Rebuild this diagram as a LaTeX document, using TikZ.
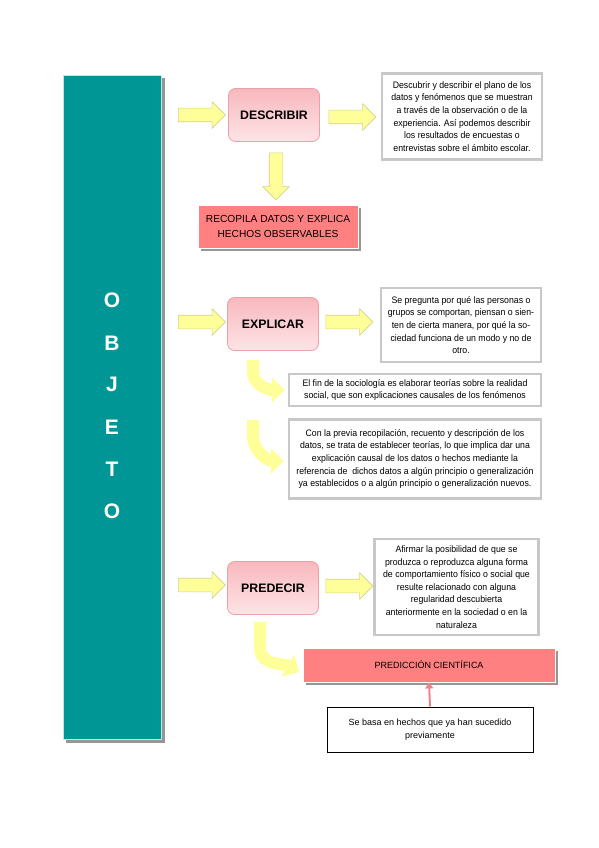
\documentclass[tikz,border=0pt]{standalone}
\usepackage{fontspec}
\setmainfont{Liberation Sans}
\newfontfamily\narrowfont[FakeStretch=0.93]{Liberation Sans}
\usetikzlibrary{shapes.arrows,arrows.meta}
\definecolor{tealc}{RGB}{0,150,150}
\definecolor{tealedge}{RGB}{200,225,225}
\definecolor{shadowc}{RGB}{150,150,150}
\definecolor{boxgray}{RGB}{200,200,200}
\definecolor{salmon}{RGB}{255,128,128}
\definecolor{pinktop}{RGB}{248,184,190}
\definecolor{pinkbot}{RGB}{253,228,230}
\definecolor{pinkedge}{RGB}{235,160,170}
\definecolor{arrowy}{RGB}{255,255,153}
\definecolor{arrowedge}{RGB}{210,210,140}
\definecolor{pinkarrow}{RGB}{240,130,140}
\tikzset{
  desc/.style={draw=boxgray, line width=2.5pt, fill=white, align=center,
    font=\narrowfont\fontsize{9.4}{12.6}\selectfont, inner sep=1pt},
  verb/.style={rounded corners=7pt, draw=pinkedge, line width=0.8pt,
    top color=pinktop, bottom color=pinkbot, font=\bfseries\fontsize{12.3}{14}\selectfont,
    minimum width=91pt, minimum height=53pt},
  redbox/.style={fill=salmon, draw=white, line width=0.8pt, align=center,
    inner sep=2pt},
  harrow/.style={shape=single arrow, fill=arrowy, draw=arrowedge, line width=0.6pt,
    inner xsep=0pt, inner ysep=6.5pt, single arrow head extend=6.5pt,
    single arrow head indent=0pt, minimum height=47pt},
  carrow/.style={line width=12pt, arrowy, -{Triangle[length=13pt,width=25pt]}},
  letter/.style={text=white, font=\bfseries\fontsize{21}{21}\selectfont},
}
\begin{document}
\begin{tikzpicture}[x=1pt,y=-1pt]
\useasboundingbox (0,0) rectangle (599,848);
% column
\fill[shadowc] (66,78) rectangle (165,743);
\node[draw=tealedge, line width=1.5pt, fill=tealc, minimum width=98pt, minimum height=664pt, inner sep=0pt] (col) at (112.5,407.5) {};
\foreach \l/\yy [count=\i] in {O/300,B/343,J/384,E/427,T/469,O/511}
  \node[letter] (L\i) at (112,\yy) {\l};

% DESCRIBIR
\node[verb] (desc) at (274,115) {DESCRIBIR};
\node[harrow] (a1) at (198.5,115) {};
\node[harrow] (a2) at (349,117) {};
\node[harrow, rotate=-90] (a3) at (276,173) {};
\node[desc, minimum width=160pt, minimum height=86pt] (b1) at (462,116.5) {Descubrir y describir el plano de los\\datos y fenómenos que se muestran\\a través de la observación o de la\\experiencia. Así podemos describir\\los resultados de encuestas o\\entrevistas sobre el ámbito escolar.};
\fill[shadowc] (201,208) rectangle (361,251);
\node[redbox, minimum width=160pt, minimum height=43pt, font=\fontsize{10.2}{14.5}\selectfont] (rec) at (278,226.5) {RECOPILA DATOS Y EXPLICA\\HECHOS OBSERVABLES};

% EXPLICAR
\node[verb] (expl) at (273,324) {EXPLICAR};
\node[harrow] (a4) at (198.5,322) {};
\node[harrow] (a5) at (346,322) {};
\node[desc, minimum width=160pt, minimum height=74pt] (b2) at (461,325) {Se pregunta por qué las personas o\\grupos se comportan, piensan o sien-\\ten de cierta manera, por qué la so-\\ciedad funciona de un modo y no de\\otro.};
\node[desc, minimum width=252pt, minimum height=32pt] (b3) at (415,390) {El fin de la sociología es elaborar teorías sobre la realidad\\social, que son explicaciones causales de los fenómenos};
\node[desc, minimum width=252pt, minimum height=79pt] (b4) at (415,459) {Con la previa recopilación, recuento y descripción de los\\datos, se trata de establecer teorías, lo que implica dar una\\explicación causal de los datos o hechos mediante la\\referencia de\ \ dichos datos a algún principio o generalización\\ya establecidos o a algún principio o generalización nuevos.};
\coordinate (s1) at (253,360);
\coordinate (s2) at (253,420);
\draw[carrow] (s1) -- (253,372) to[out=-90,in=180] ([xshift=-3pt]b3.west);
\draw[carrow] (s2) -- (253,436) to[out=-90,in=180] ([xshift=-4pt,yshift=-2pt]b4.west);

% PREDECIR
\node[verb] (pred) at (273,588) {PREDECIR};
\node[harrow] (a6) at (198.5,585) {};
\node[harrow] (a7) at (346,586) {};
\node[desc, minimum width=164pt, minimum height=96pt] (b5) at (456.5,587) {Afirmar la posibilidad de que se\\produzca o reproduzca alguna forma\\de comportamiento físico o social que\\resulte relacionado con alguna\\regularidad descubierta\\anteriormente en la sociedad o en la\\naturaleza};
\fill[shadowc] (306,651) rectangle (558,685);
\node[redbox, minimum width=252pt, minimum height=34pt, font=\fontsize{9}{11}\selectfont] (pc) at (429,665) {PREDICCIÓN CIENTÍFICA};
\coordinate (s3) at (260,622);
\draw[carrow] (s3) -- (260,648) to[out=-90,in=150] (299,672);
\node[draw=black, line width=0.8pt, fill=white, minimum width=206pt, minimum height=45pt, align=center, font=\fontsize{9}{12.6}\selectfont] (basa) at (430,729.5) {Se basa en hechos que ya han sucedido\\previamente};
\draw[pinkarrow, line width=2pt, -{Triangle[length=6pt,width=8pt]}] (basa.north) -- (pc.south);
\end{tikzpicture}
\end{document}
